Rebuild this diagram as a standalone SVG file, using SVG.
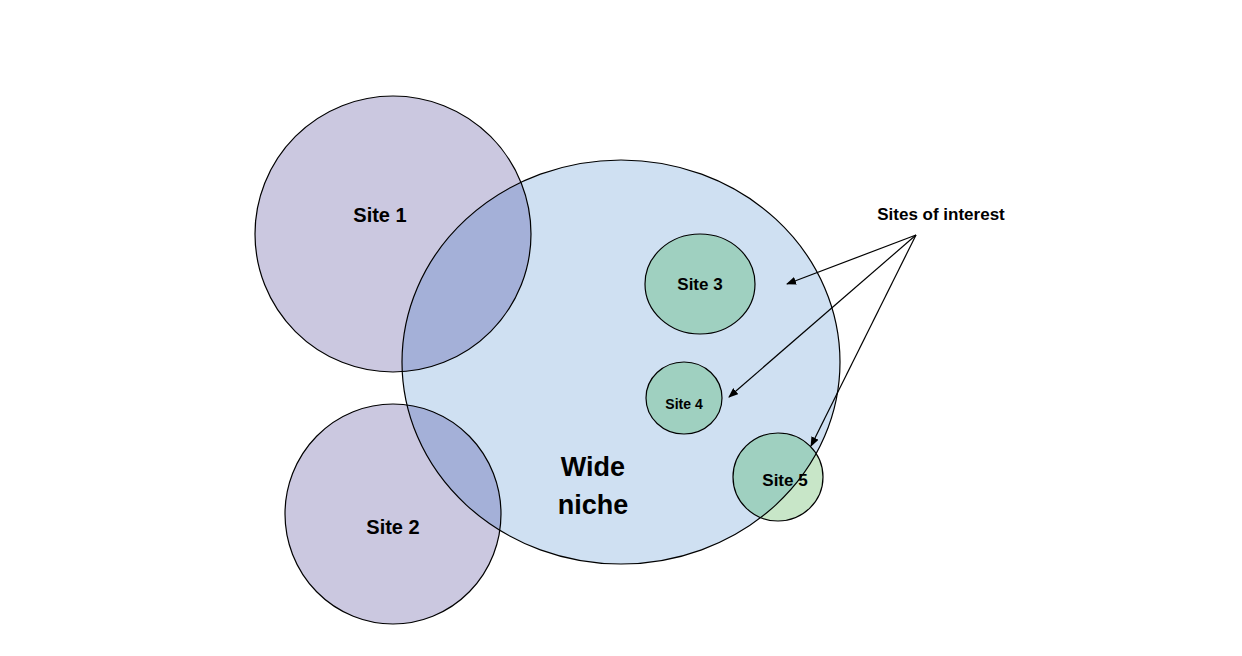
<svg xmlns="http://www.w3.org/2000/svg" width="1242" height="656" viewBox="0 0 1242 656">
<style>
.o{fill:none;stroke:#000;stroke-width:1.2}
.t{font-family:"Liberation Sans",Arial,sans-serif;font-weight:bold;fill:#000;text-anchor:middle}
.c{stroke:#000;stroke-width:1.2;fill:none;marker-end:url(#ah)}
</style>
<defs>
<marker id="ah" markerWidth="10" markerHeight="8" refX="9" refY="4" orient="auto" markerUnits="userSpaceOnUse"><path d="M0,0 L10,4 L0,8 Z" fill="#000"/></marker>
<clipPath id="niche"><ellipse cx="621" cy="362" rx="219" ry="202"/></clipPath>
</defs>
<rect width="1242" height="656" fill="#fff"/>
<g id="wide-niche">
<ellipse cx="621" cy="362" rx="219" ry="202" fill="#cfe0f2"/>
</g>
<g id="site1">
<circle cx="393" cy="234" r="138" fill="#cbc8e0"/>
<circle cx="393" cy="234" r="138" fill="#a4b0d8" clip-path="url(#niche)"/>
</g>
<g id="site2">
<ellipse cx="393" cy="514" rx="108" ry="110" fill="#cbc8e0"/>
<ellipse cx="393" cy="514" rx="108" ry="110" fill="#a4b0d8" clip-path="url(#niche)"/>
</g>
<g id="site3"><ellipse cx="700" cy="284" rx="55" ry="50" fill="#9fd0c0" class="o" style="fill:#9fd0c0"/></g>
<g id="site4"><ellipse cx="684" cy="398" rx="38" ry="36" class="o" style="fill:#9fd0c0"/></g>
<g id="site5">
<ellipse cx="778" cy="477" rx="45" ry="44" fill="#c8e6c8"/>
<ellipse cx="778" cy="477" rx="45" ry="44" fill="#9fd0c0" clip-path="url(#niche)"/>
</g>
<g id="outlines">
<circle cx="393" cy="234" r="138" class="o"/>
<ellipse cx="393" cy="514" rx="108" ry="110" class="o"/>
<ellipse cx="621" cy="362" rx="219" ry="202" class="o"/>
<ellipse cx="778" cy="477" rx="45" ry="44" class="o"/>
</g>
<g id="labels">
<text class="t" x="380" y="222" font-size="20">Site 1</text>
<text class="t" x="393" y="534" font-size="20">Site 2</text>
<text class="t" x="700" y="290" font-size="17">Site 3</text>
<text class="t" x="684" y="409" font-size="14">Site 4</text>
<text class="t" x="785" y="486" font-size="17">Site 5</text>
<text class="t" x="593" y="476" font-size="27">Wide</text>
<text class="t" x="593" y="514" font-size="27">niche</text>
<text class="t" x="941" y="220" font-size="17">Sites of interest</text>
</g>
<g id="connectors">
<line class="c" x1="916" y1="235" x2="787" y2="284"/>
<line class="c" x1="916" y1="235" x2="729" y2="397"/>
<line class="c" x1="916" y1="235" x2="811" y2="446"/>
</g>
</svg>
